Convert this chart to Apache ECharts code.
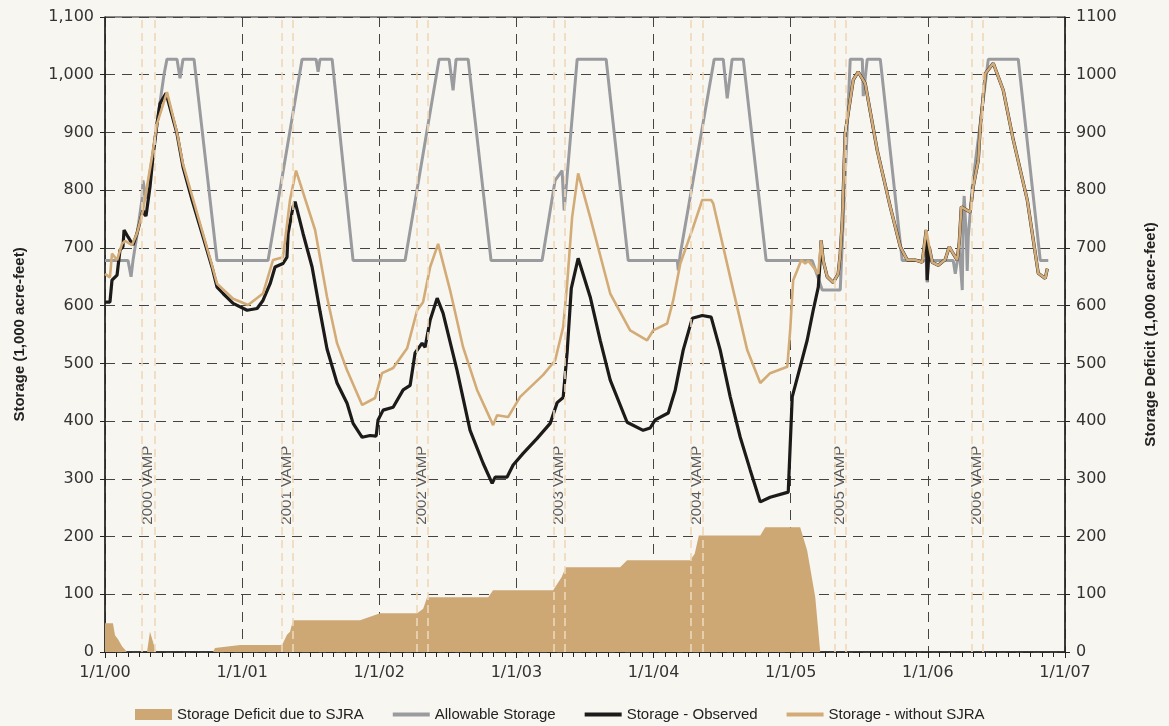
<!DOCTYPE html>
<html>
<head>
<meta charset="utf-8">
<script src="https://cdn.jsdelivr.net/npm/echarts@6/dist/echarts.min.js"></script>
<style>
html,body{margin:0;padding:0;background:#f8f6f1;}
#chart{width:1169px;height:726px;}
</style>
</head>
<body>
<div id="chart"></div>
<script>
// x values are decimal years (2000.0 = 1/1/00)
const yearTicks = [2000, 2001, 2002, 2003, 2004, 2005, 2006, 2007];

const allowable = [[2000.000,678],[2000.168,678],[2000.190,650],[2000.204,678],[2000.233,722],[2000.270,785],[2000.277,817],[2000.299,785],[2000.343,855],[2000.430,1000],[2000.452,1027],[2000.525,1027],[2000.547,994],[2000.569,1027],[2000.649,1027],[2000.817,678],[2001.189,678],[2001.437,1027],[2001.539,1027],[2001.554,1005],[2001.568,1027],[2001.656,1027],[2001.809,678],[2002.188,678],[2002.436,1027],[2002.509,1027],[2002.538,973],[2002.560,1027],[2002.648,1027],[2002.815,678],[2003.187,678],[2003.282,817],[2003.333,834],[2003.348,765],[2003.443,1027],[2003.654,1027],[2003.815,678],[2004.173,678],[2004.180,661],[2004.195,690],[2004.442,1027],[2004.508,1027],[2004.537,959],[2004.573,1027],[2004.654,1027],[2004.821,678],[2005.157,678],[2005.230,627],[2005.361,627],[2005.434,1027],[2005.522,1027],[2005.529,963],[2005.558,1027],[2005.653,1027],[2005.813,678],[2005.988,678],[2005.995,640],[2006.003,678],[2006.185,678],[2006.200,655],[2006.229,700],[2006.251,627],[2006.258,760],[2006.265,790],[2006.280,720],[2006.287,660],[2006.295,720],[2006.324,806],[2006.441,1027],[2006.659,1027],[2006.820,678],[2006.878,678]];

const observed = [[2000.000,606],[2000.036,606],[2000.051,644],[2000.088,653],[2000.109,696],[2000.131,702],[2000.139,731],[2000.168,719],[2000.204,705],[2000.233,725],[2000.277,765],[2000.299,755],[2000.328,806],[2000.350,858],[2000.379,915],[2000.401,950],[2000.445,968],[2000.525,898],[2000.569,840],[2000.635,783],[2000.708,725],[2000.780,667],[2000.817,632],[2000.861,621],[2000.934,604],[2001.036,592],[2001.109,595],[2001.152,609],[2001.204,638],[2001.240,667],[2001.298,673],[2001.327,684],[2001.335,725],[2001.371,771],[2001.386,780],[2001.444,725],[2001.510,667],[2001.568,590],[2001.619,525],[2001.692,466],[2001.765,431],[2001.809,396],[2001.875,372],[2001.933,375],[2001.977,374],[2001.991,402],[2002.028,419],[2002.101,424],[2002.174,454],[2002.225,462],[2002.261,518],[2002.312,535],[2002.334,528],[2002.371,575],[2002.422,613],[2002.465,587],[2002.567,488],[2002.662,384],[2002.757,327],[2002.823,292],[2002.845,303],[2002.932,303],[2002.976,324],[2003.049,344],[2003.151,370],[2003.246,396],[2003.297,432],[2003.341,441],[2003.370,520],[2003.400,630],[2003.450,682],[2003.538,615],[2003.611,540],[2003.684,471],[2003.807,398],[2003.924,384],[2003.975,388],[2004.012,402],[2004.107,414],[2004.158,454],[2004.216,523],[2004.282,578],[2004.355,583],[2004.420,580],[2004.486,523],[2004.559,442],[2004.632,372],[2004.705,315],[2004.778,260],[2004.850,268],[2004.982,277],[2005.011,442],[2005.069,494],[2005.120,540],[2005.164,592],[2005.201,632],[2005.215,679],[2005.222,713],[2005.237,678],[2005.266,650],[2005.310,640],[2005.346,655],[2005.361,690],[2005.376,748],[2005.397,898],[2005.419,933],[2005.456,991],[2005.492,1005],[2005.543,985],[2005.631,869],[2005.726,771],[2005.799,702],[2005.850,679],[2005.908,679],[2005.959,675],[2005.988,731],[2005.995,644],[2006.010,702],[2006.032,675],[2006.076,670],[2006.127,680],[2006.156,702],[2006.185,690],[2006.214,679],[2006.229,710],[2006.244,771],[2006.287,765],[2006.309,762],[2006.331,806],[2006.368,852],[2006.382,909],[2006.419,1002],[2006.477,1020],[2006.550,973],[2006.623,887],[2006.725,783],[2006.805,656],[2006.856,647],[2006.871,664]];

const withoutSJRA = [[2000.000,655],[2000.036,649],[2000.051,690],[2000.088,679],[2000.124,707],[2000.146,712],[2000.197,705],[2000.233,725],[2000.277,765],[2000.343,858],[2000.379,915],[2000.452,970],[2000.525,900],[2000.569,845],[2000.635,790],[2000.708,730],[2000.780,670],[2000.817,638],[2000.934,612],[2001.043,601],[2001.152,621],[2001.225,679],[2001.298,684],[2001.349,783],[2001.393,834],[2001.532,731],[2001.619,615],[2001.692,535],[2001.765,488],[2001.875,428],[2001.969,440],[2002.020,483],[2002.101,492],[2002.203,526],[2002.276,592],[2002.319,606],[2002.371,667],[2002.429,707],[2002.516,627],[2002.611,528],[2002.713,454],[2002.830,393],[2002.859,410],[2002.939,407],[2003.027,442],[2003.195,480],[2003.282,505],[2003.341,563],[2003.370,638],[2003.406,753],[2003.450,829],[2003.538,753],[2003.684,621],[2003.829,557],[2003.953,540],[2003.997,557],[2004.099,569],[2004.143,609],[2004.195,673],[2004.289,736],[2004.355,783],[2004.420,783],[2004.435,777],[2004.559,649],[2004.683,523],[2004.778,466],[2004.850,483],[2004.975,494],[2004.996,557],[2005.018,644],[2005.047,661],[2005.077,679],[2005.106,673],[2005.128,678],[2005.164,667],[2005.201,655],[2005.222,713],[2005.237,678],[2005.266,650],[2005.310,640],[2005.346,655],[2005.361,690],[2005.376,748],[2005.397,898],[2005.419,933],[2005.456,991],[2005.492,1005],[2005.543,985],[2005.631,869],[2005.726,771],[2005.799,702],[2005.850,679],[2005.908,679],[2005.959,675],[2005.988,731],[2006.010,702],[2006.032,675],[2006.076,670],[2006.127,680],[2006.156,702],[2006.185,690],[2006.214,679],[2006.229,710],[2006.244,771],[2006.287,765],[2006.309,762],[2006.331,806],[2006.368,852],[2006.382,909],[2006.419,1002],[2006.477,1020],[2006.550,973],[2006.623,887],[2006.725,783],[2006.805,656],[2006.856,647],[2006.871,664]];

const deficit = [[2000.000,50],[2000.058,50],[2000.073,29],[2000.095,22],[2000.124,10],[2000.160,0],[2000.306,0],[2000.328,35],[2000.372,0],[2000.788,0],[2000.802,7],[2000.985,12],[2001.291,12],[2001.327,30],[2001.349,35],[2001.371,55],[2001.860,55],[2002.006,67],[2002.276,67],[2002.320,75],[2002.349,95],[2002.794,95],[2002.830,107],[2003.268,107],[2003.330,130],[2003.360,147],[2003.756,147],[2003.807,159],[2004.267,159],[2004.300,170],[2004.330,202],[2004.778,202],[2004.814,216],[2005.069,216],[2005.120,176],[2005.179,95],[2005.215,0],[2007.000,0]];

const vampStart = [2000.272, 2001.289, 2002.274, 2003.270, 2004.274, 2005.319, 2006.317];
const vampEnd   = [2000.357, 2001.369, 2002.351, 2003.350, 2004.357, 2005.403, 2006.399];
const vampNames = ['2000 VAMP','2001 VAMP','2002 VAMP','2003 VAMP','2004 VAMP','2005 VAMP','2006 VAMP'];
const vampLabelLevel = 289;

const chart = echarts.init(document.getElementById('chart'));

const vampLines = [];
vampStart.forEach((v, i) => { vampLines.push({xAxis: v}); vampLines.push({xAxis: vampEnd[i]}); });
const vampLabels = vampNames.map((n, i) => [(vampStart[i] + vampEnd[i]) / 2, vampLabelLevel, n]);

const tickFont = {fontFamily: 'DejaVu Sans', fontSize: 16, color: '#333'};
const dashGrid = {show: true, lineStyle: {color: '#444', width: 1, type: [10, 7]}};
const lineIcon = 'path://M0,0L38,0L38,4L0,4Z';

chart.setOption({
  backgroundColor: '#f8f6f1',
  animation: false,
  grid: {left: 105, right: 104, top: 17, bottom: 74, show: true, borderColor: '#222', borderWidth: 1, backgroundColor: 'transparent'},
  legend: {
    top: 702, left: 130, itemWidth: 37, itemHeight: 11, itemGap: 29, symbolKeepAspect: true,
    textStyle: {fontFamily: 'Liberation Sans', fontSize: 15, color: '#222'},
    data: [
      {name: 'Storage Deficit due to SJRA', icon: 'rect'},
      {name: 'Allowable Storage', icon: lineIcon},
      {name: 'Storage - Observed', icon: lineIcon},
      {name: 'Storage - without SJRA', icon: lineIcon}
    ]
  },
  xAxis: {
    type: 'value', min: yearTicks[0], max: yearTicks[yearTicks.length - 1], interval: 1,
    axisLine: {show: true, lineStyle: {color: '#222', width: 1.5}},
    axisTick: {show: true, length: 6, lineStyle: {color: '#222'}},
    minorTick: {show: true, splitNumber: 12, length: 5, lineStyle: {color: '#222'}},
    axisLabel: Object.assign({margin: 13, formatter: v => '1/1/' + String(v % 100).padStart(2, '0')}, tickFont),
    splitLine: dashGrid
  },
  yAxis: [
    {
      type: 'value', min: 0, max: 1100, interval: 100, position: 'left',
      name: 'Storage (1,000 acre-feet)', nameLocation: 'middle', nameGap: 78, nameRotate: 90,
      nameTextStyle: {fontFamily: 'Liberation Sans', fontWeight: 'bold', fontSize: 15, color: '#222'},
      axisLine: {show: true, lineStyle: {color: '#222', width: 1.5}},
      axisTick: {show: true, length: 5, lineStyle: {color: '#222'}},
      axisLabel: Object.assign({margin: 11, formatter: v => v.toLocaleString('en-US')}, tickFont),
      splitLine: dashGrid
    },
    {
      type: 'value', min: 0, max: 1100, interval: 100, position: 'right',
      name: 'Storage Deficit (1,000 acre-feet)', nameLocation: 'middle', nameGap: 78, nameRotate: 90,
      nameTextStyle: {fontFamily: 'Liberation Sans', fontWeight: 'bold', fontSize: 15, color: '#222'},
      axisLine: {show: true, lineStyle: {color: '#222', width: 1.5}},
      axisTick: {show: true, length: 5, lineStyle: {color: '#222'}},
      axisLabel: Object.assign({margin: 11, formatter: v => String(v)}, tickFont),
      splitLine: {show: false}
    }
  ],
  series: [
    {
      name: 'Storage Deficit due to SJRA', type: 'line', yAxisIndex: 1, data: deficit,
      symbol: 'none', lineStyle: {width: 0, color: '#cda874'}, itemStyle: {color: '#cda874'},
      areaStyle: {color: '#cda874', opacity: 1}
    },
    {
      name: 'vamp', type: 'line', data: [], silent: true,
      markLine: {
        symbol: 'none', silent: true, label: {show: false},
        lineStyle: {color: '#eed8ba', width: 1.6, type: [8, 5]},
        data: vampLines
      }
    },
    {
      name: 'Allowable Storage', type: 'line', data: allowable, symbol: 'none',
      lineStyle: {color: '#999b9e', width: 3}, itemStyle: {color: '#999b9e'}
    },
    {
      name: 'Storage - Observed', type: 'line', data: observed, symbol: 'none',
      lineStyle: {color: '#1d1a1a', width: 3.2}, itemStyle: {color: '#1d1a1a'}
    },
    {
      name: 'Storage - without SJRA', type: 'line', data: withoutSJRA, symbol: 'none',
      lineStyle: {color: '#d2ab77', width: 2.6}, itemStyle: {color: '#d2ab77'}
    },
    {
      name: 'vampLabels', type: 'scatter', data: vampLabels, symbolSize: 0, silent: true,
      label: {show: true, position: 'inside', rotate: 90, formatter: p => p.data[2],
        fontFamily: 'Liberation Sans', fontSize: 15, color: '#333'}
    }
  ]
});
</script>
</body>
</html>
